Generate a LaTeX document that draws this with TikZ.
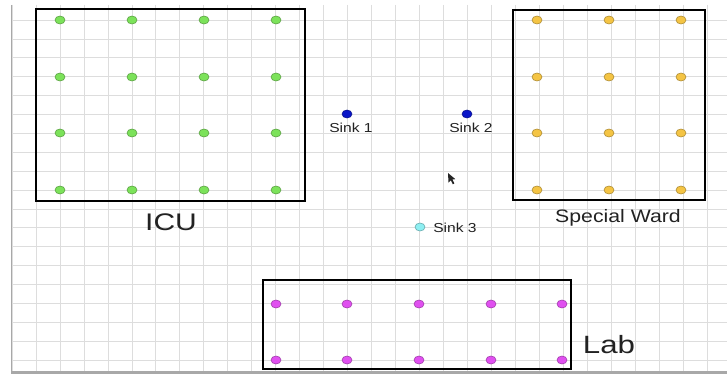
\documentclass[tikz,border=0pt]{standalone}
\usepackage{fontspec}
\setmainfont{Liberation Sans}
\usetikzlibrary{positioning,shapes.geometric}
\definecolor{gridc}{HTML}{DDDDDD}
\definecolor{edgec}{HTML}{A8A8A8}
\definecolor{txt}{HTML}{222222}
\definecolor{icuc}{HTML}{7CE25A}
\definecolor{wardc}{HTML}{F4C444}
\definecolor{labc}{HTML}{E050F0}
\definecolor{sinkc}{HTML}{0A16C8}
\definecolor{sinkb}{HTML}{8EEFF2}

\begin{document}
\begin{tikzpicture}[
  x=1pt, y=-1pt,
  room/.style={draw=black, line width=2.4pt, inner sep=0pt},
  mote/.style={ellipse, draw=#1!70!black, fill=#1, line width=0.6pt, minimum width=10pt, minimum height=8pt, inner sep=0pt},
  lbl/.style={font=\fontsize{#1}{#1}\selectfont, text=txt, inner sep=0pt, anchor=base},
]
\useasboundingbox (0,0) rectangle (727,374);

\foreach \k in {0,...,29}
  \draw[gridc, line width=0.7pt] (12+23.97*\k, 5) -- (12+23.97*\k, 371);
\foreach \k in {0,...,18}
  \draw[gridc, line width=0.7pt] (11, 20+18.89*\k) -- (727, 20+18.89*\k);
\draw[edgec, line width=1pt] (11,5) -- (11,371);
\fill[edgec] (11,370.5) rectangle (727,373.5);

\node[room, minimum width=269pt, minimum height=192pt] (icu) at (170.5,105) {};
\node[room, minimum width=192pt, minimum height=190pt] (ward) at (609,105) {};
\node[room, minimum width=308pt, minimum height=89pt] (lab) at (417,324.5) {};

\foreach \x [count=\i] in {60,132,204,276}
  \foreach \y [count=\j] in {20,77,133,190}
    \node[mote=icuc] (icu-\i-\j) at (\x,\y) {};
\foreach \x [count=\i] in {537,609,681}
  \foreach \y [count=\j] in {20,77,133,190}
    \node[mote=wardc] (ward-\i-\j) at (\x,\y) {};
\foreach \x [count=\i] in {276,347,419,491,562}
  \foreach \y [count=\j] in {304,360}
    \node[mote=labc] (lab-\i-\j) at (\x,\y) {};

\node[mote=sinkc] (sink1) at (347,114) {};
\node[mote=sinkc] (sink2) at (467,114) {};
\node[mote=sinkb] (sink3) at (420,227) {};

\node[lbl=13] (sink1-lbl) at (351,133) {\scalebox{1.2}[1]{Sink 1}};
\node[lbl=13] (sink2-lbl) at (471,133) {\scalebox{1.2}[1]{Sink 2}};
\node[lbl=13] (sink3-lbl) at (455,232) {\scalebox{1.2}[1]{Sink 3}};

\node[lbl=24] (icu-lbl) at (171,230) {\scalebox{1.25}[1]{ICU}};
\node[lbl=18] (ward-lbl) at (618,222) {\scalebox{1.18}[1]{Special Ward}};
\node[lbl=25] (lab-lbl) at (609,353) {\scalebox{1.25}[1]{Lab}};

\fill[black!85] (448,173) -- (448.5,182.5) -- (450.8,180.3) -- (452.8,184.3) -- (454.4,183.4) -- (452.4,179.4) -- (455.4,179.2) -- cycle;

\end{tikzpicture}
\end{document}
